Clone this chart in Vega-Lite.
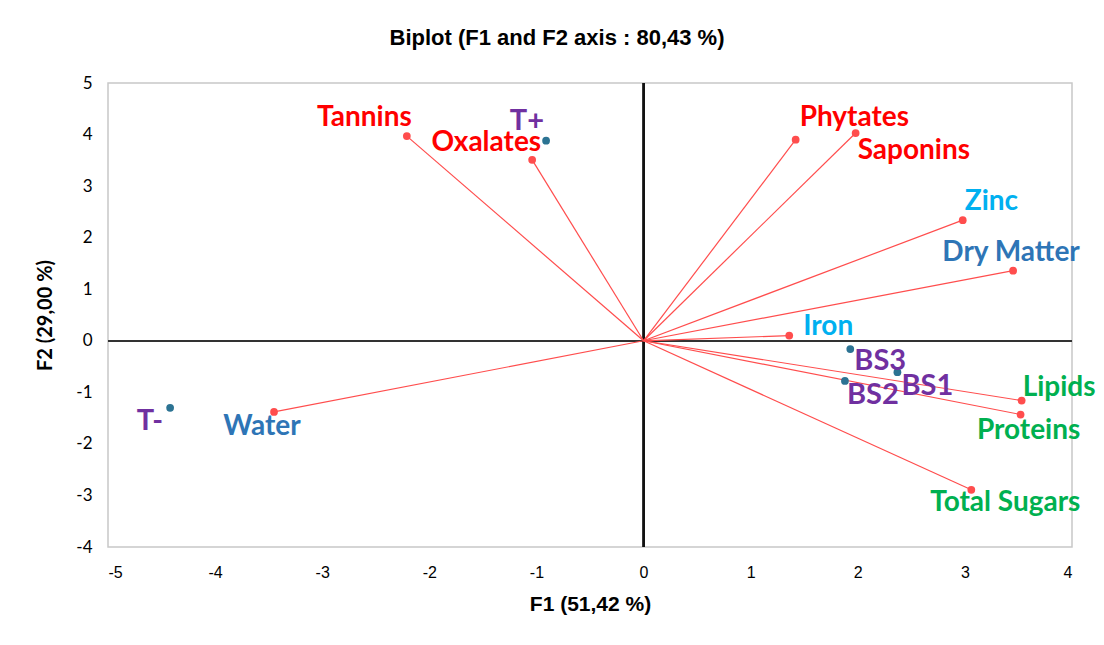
{
  "$schema": "https://vega.github.io/schema/vega-lite/v6.json",
  "width": 964,
  "height": 464,
  "autosize": "none",
  "padding": {"left": 108, "top": 83, "right": 32, "bottom": 98},
  "background": "white",
  "title": {
    "text": "Biplot (F1 and F2 axis : 80,43 %)",
    "font": "Liberation Sans",
    "fontSize": 22,
    "fontWeight": "bold",
    "color": "#000000",
    "anchor": "middle",
    "dx": -33,
    "offset": 24
  },
  "config": {
    "view": {"stroke": "#c8c8c8", "strokeWidth": 1.5},
    "axis": {"grid": false, "domain": false, "ticks": false, "tickSize": 0, "labelColor": "#000000", "titleColor": "#000000"}
  },
  "datasets": {
    "points": [
      {"name": "Tannins", "F1": -2.21, "F2": 3.97, "kind": "var", "group": "Anti-nutrients"},
      {"name": "Oxalates", "F1": -1.04, "F2": 3.51, "kind": "var", "group": "Anti-nutrients"},
      {"name": "Phytates", "F1": 1.42, "F2": 3.90, "kind": "var", "group": "Anti-nutrients"},
      {"name": "Saponins", "F1": 1.98, "F2": 4.03, "kind": "var", "group": "Anti-nutrients"},
      {"name": "Zinc", "F1": 2.98, "F2": 2.34, "kind": "var", "group": "Minerals"},
      {"name": "Dry Matter", "F1": 3.45, "F2": 1.36, "kind": "var", "group": "Moisture"},
      {"name": "Iron", "F1": 1.36, "F2": 0.10, "kind": "var", "group": "Minerals"},
      {"name": "Lipids", "F1": 3.53, "F2": -1.16, "kind": "var", "group": "Macronutrients"},
      {"name": "Proteins", "F1": 3.52, "F2": -1.43, "kind": "var", "group": "Macronutrients"},
      {"name": "Total Sugars", "F1": 3.06, "F2": -2.89, "kind": "var", "group": "Macronutrients"},
      {"name": "Water", "F1": -3.45, "F2": -1.38, "kind": "var", "group": "Moisture"},
      {"name": "T+", "F1": -0.91, "F2": 3.88, "kind": "obs", "group": "Samples"},
      {"name": "T-", "F1": -4.42, "F2": -1.30, "kind": "obs", "group": "Samples"},
      {"name": "BS3", "F1": 1.93, "F2": -0.16, "kind": "obs", "group": "Samples"},
      {"name": "BS1", "F1": 2.37, "F2": -0.61, "kind": "obs", "group": "Samples"},
      {"name": "BS2", "F1": 1.88, "F2": -0.78, "kind": "obs", "group": "Samples"}
    ],
    "yticks": [
      {"t": -4}, {"t": -3}, {"t": -2}, {"t": -1}, {"t": 1}, {"t": 2}, {"t": 3}, {"t": 4}, {"t": 5}
    ]
  },
  "data": {"name": "points"},
  "encoding": {
    "x": {
      "field": "F1", "type": "quantitative",
      "scale": {"domain": [-5, 4], "nice": false, "zero": false},
      "axis": {"values": [-5, -4, -3, -2, -1, 0, 1, 2, 3, 4], "labelExpr": "'' + datum.value", "title": "F1 (51,42 %)", "labelFont": "Liberation Sans", "labelFontSize": 16, "labelPadding": 17, "titleFont": "Liberation Sans", "titleFontSize": 21, "titleFontWeight": "bold", "titlePadding": 13}
    },
    "y": {
      "field": "F2", "type": "quantitative",
      "scale": {"domain": [-4, 5], "nice": false, "zero": false},
      "axis": {"values": [-4, -3, -2, -1, 0, 1, 2, 3, 4, 5], "labelExpr": "'' + datum.value", "title": "F2 (29,00 %)", "labelFont": "Lato", "labelFontSize": 17, "labelPadding": 16, "titleFont": "Lato", "titleFontSize": 20, "titleFontWeight": "bold", "titlePadding": 20}
    }
  },
  "layer": [
    {
      "mark": {"type": "rule", "color": "#333333", "strokeWidth": 1.5},
      "encoding": {"y": {"datum": 0}, "x": null}
    },
    {
      "mark": {"type": "rule", "color": "#111111", "strokeWidth": 1.3},
      "encoding": {"x": {"datum": 0}, "y": null}
    },
    {
      "data": {"name": "yticks"},
      "mark": {"type": "tick", "orient": "horizontal", "color": "#111111", "size": 12, "thickness": 1.5},
      "encoding": {"x": {"datum": 0}, "y": {"field": "t", "type": "quantitative"}}
    },
    {
      "transform": [{"filter": "datum.kind === 'var'"}],
      "mark": {"type": "rule", "color": "#FF4D4D", "strokeWidth": 1.2},
      "encoding": {"x2": {"datum": 0}, "y2": {"datum": 0}}
    },
    {
      "mark": {"type": "circle", "size": 60, "opacity": 1},
      "encoding": {
        "color": {"condition": {"test": "datum.kind === 'obs'", "value": "#2C7393"}, "value": "#FF4D4D"}
      }
    },
    {
      "encoding": {
        "text": {"field": "name", "type": "nominal"},
        "color": {
          "field": "group", "type": "nominal", "legend": null,
          "scale": {"domain": ["Anti-nutrients", "Minerals", "Moisture", "Macronutrients", "Samples"], "range": ["#FF0000", "#00B0F0", "#2E75B6", "#00B050", "#7030A0"]}
        }
      },
      "layer": [
        {"transform": [{"filter": "datum.name === 'Tannins'"}], "mark": {"type": "text", "font": "Lato", "fontWeight": "bold", "fontSize": 28, "align": "right", "baseline": "middle", "dx": 5, "dy": -18}},
        {"transform": [{"filter": "datum.name === 'Oxalates'"}], "mark": {"type": "text", "font": "Lato", "fontWeight": "bold", "fontSize": 28, "align": "right", "baseline": "middle", "dx": 9, "dy": -17}},
        {"transform": [{"filter": "datum.name === 'T+'"}], "mark": {"type": "text", "font": "Lato", "fontWeight": "bold", "fontSize": 29, "align": "right", "baseline": "middle", "dx": -2, "dy": -20}},
        {"transform": [{"filter": "datum.name === 'Phytates'"}], "mark": {"type": "text", "font": "Lato", "fontWeight": "bold", "fontSize": 28, "align": "left", "baseline": "middle", "dx": 4, "dy": -22}},
        {"transform": [{"filter": "datum.name === 'Saponins'"}], "mark": {"type": "text", "font": "Lato", "fontWeight": "bold", "fontSize": 28, "align": "left", "baseline": "middle", "dx": 2, "dy": 18}},
        {"transform": [{"filter": "datum.name === 'Zinc'"}], "mark": {"type": "text", "font": "Lato", "fontWeight": "bold", "fontSize": 28, "align": "left", "baseline": "middle", "dx": 2, "dy": -18}},
        {"transform": [{"filter": "datum.name === 'Dry Matter'"}], "mark": {"type": "text", "font": "Lato", "fontWeight": "bold", "fontSize": 28, "align": "center", "baseline": "middle", "dx": -2, "dy": -18}},
        {"transform": [{"filter": "datum.name === 'Iron'"}], "mark": {"type": "text", "font": "Lato", "fontWeight": "bold", "fontSize": 28, "align": "left", "baseline": "middle", "dx": 14, "dy": -9}},
        {"transform": [{"filter": "datum.name === 'Lipids'"}], "mark": {"type": "text", "font": "Lato", "fontWeight": "bold", "fontSize": 28, "align": "left", "baseline": "middle", "dx": 1, "dy": -13}},
        {"transform": [{"filter": "datum.name === 'Proteins'"}], "mark": {"type": "text", "font": "Lato", "fontWeight": "bold", "fontSize": 28, "align": "center", "baseline": "middle", "dx": 8, "dy": 16}},
        {"transform": [{"filter": "datum.name === 'Total Sugars'"}], "mark": {"type": "text", "font": "Lato", "fontWeight": "bold", "fontSize": 28, "align": "center", "baseline": "middle", "dx": 34, "dy": 13}},
        {"transform": [{"filter": "datum.name === 'Water'"}], "mark": {"type": "text", "font": "Lato", "fontWeight": "bold", "fontSize": 28, "align": "center", "baseline": "middle", "dx": -12, "dy": 15}},
        {"transform": [{"filter": "datum.name === 'T-'"}], "mark": {"type": "text", "font": "Lato", "fontWeight": "bold", "fontSize": 29, "align": "right", "baseline": "middle", "dx": -7, "dy": 13}},
        {"transform": [{"filter": "datum.name === 'BS3'"}], "mark": {"type": "text", "font": "Lato", "fontWeight": "bold", "fontSize": 29, "align": "left", "baseline": "middle", "dx": 4, "dy": 12}},
        {"transform": [{"filter": "datum.name === 'BS1'"}], "mark": {"type": "text", "font": "Lato", "fontWeight": "bold", "fontSize": 29, "align": "left", "baseline": "middle", "dx": 4, "dy": 14}},
        {"transform": [{"filter": "datum.name === 'BS2'"}], "mark": {"type": "text", "font": "Lato", "fontWeight": "bold", "fontSize": 29, "align": "left", "baseline": "middle", "dx": 2, "dy": 14}}
      ]
    }
  ]
}
